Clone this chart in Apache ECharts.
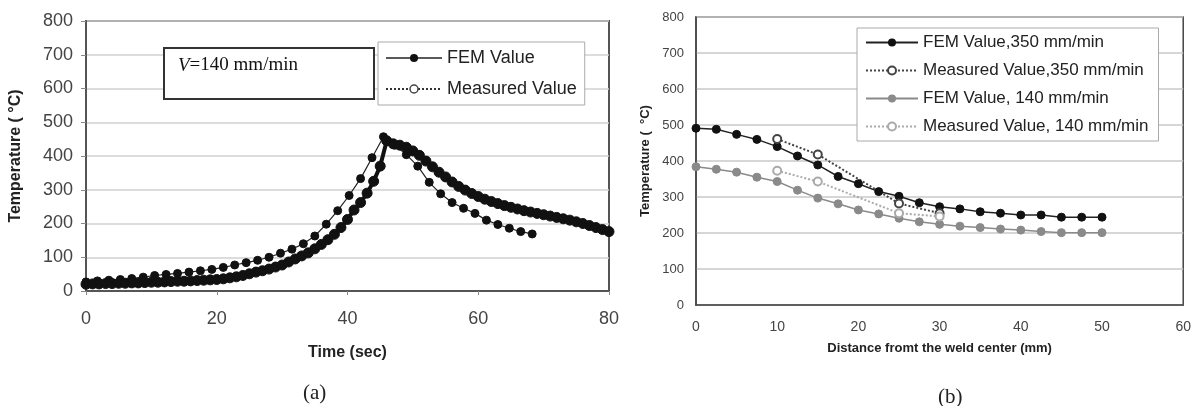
<!DOCTYPE html>
<html>
<head>
<meta charset="utf-8">
<script src="https://cdn.jsdelivr.net/npm/echarts@6/dist/echarts.min.js"></script>
<style>
  html, body { margin: 0; padding: 0; background: #ffffff; }
  #chart { width: 1194px; height: 406px; }
</style>
</head>
<body>
<div id="chart"></div>
<script>
'use strict';

// (a) 时间-温度曲线, V = 140 mm/min
var timeFem = [0, 1.75, 3.5, 5.25, 7, 8.75, 10.5, 12.25, 14, 15.75, 17.5, 19.25, 21, 22.75, 24.5, 26.25,
    28, 29.75, 31.5, 33.25, 35, 36.75, 38.5, 40.25, 42, 43.75, 45.5, 47.25, 49, 50.75, 52.5, 54.25,
    56, 57.75, 59.5, 61.25, 63, 64.75, 66.5, 68.25];
var tempFem = [27, 30, 32, 34, 37, 41, 46, 49, 52, 56, 60, 64, 70, 77, 84, 91,
    100, 112, 124, 140, 163, 198, 238, 283, 333, 395, 457, 432, 404, 370, 322, 288,
    262, 245, 230, 210, 197, 186, 176, 169];

var timeMeas = [0, 1, 2, 3, 4, 5, 6, 7, 8, 9, 10, 11, 12, 13, 14, 15, 16, 17, 18, 19, 20,
    21, 22, 23, 24, 25, 26, 27, 28, 29, 30, 31, 32, 33, 34, 35, 36, 37, 38, 39, 40,
    41, 42, 43, 44, 45, 46, 47, 48, 49, 50, 51, 52, 53, 54, 55, 56, 57, 58, 59, 60,
    61, 62, 63, 64, 65, 66, 67, 68, 69, 70, 71, 72, 73, 74, 75, 76, 77, 78, 79, 80];
var tempMeas = [20, 21, 21, 22, 22, 23, 23, 24, 24, 25, 26, 26, 27, 28, 29, 29, 30, 31, 32, 33, 34,
    36, 39, 42, 46, 51, 56, 60, 65, 71, 77, 86, 95, 104, 113, 125, 138, 152, 168, 188, 212,
    240, 262, 290, 325, 370, 445, 436, 432, 426, 415, 402, 385, 368, 352, 338, 323, 310, 299, 289, 280,
    272, 265, 259, 253, 248, 243, 238, 234, 230, 226, 222, 218, 214, 210, 205, 200, 194, 188, 182, 176];

// (b) 距焊缝中心距离-温度
var distFem = [0, 2.5, 5, 7.5, 10, 12.5, 15, 17.5, 20, 22.5, 25, 27.5, 30, 32.5, 35, 37.5, 40, 42.5, 45, 47.5, 50];
var fem350 = [491, 488, 474, 460, 440, 414, 389, 357, 337, 315, 302, 284, 273, 267, 259, 255, 250, 250, 244, 244, 244];
var fem140 = [384, 377, 369, 355, 343, 319, 297, 281, 264, 253, 241, 231, 224, 219, 215, 211, 208, 204, 201, 201, 201];
var distMeas = [10, 15, 25, 30];
var meas350 = [461, 418, 282, 255];
var meas140 = [373, 343, 255, 246];

function pairs(xs, ys) {
    var out = [];
    for (var i = 0; i < xs.length; i++) {
        out.push([xs[i], ys[i]]);
    }
    return out;
}

var sans = 'Liberation Sans, Arial, sans-serif';
var serif = 'Liberation Serif, Times New Roman, serif';

var chart = echarts.init(document.getElementById('chart'));

var option = {
    backgroundColor: '#ffffff',
    animation: false,
    title: [
        { text: '(a)', left: 298, top: 378, textStyle: { fontFamily: serif, fontSize: 21, fontWeight: 'normal', color: '#222' } },
        { text: '(b)', left: 933, top: 382, textStyle: { fontFamily: serif, fontSize: 21, fontWeight: 'normal', color: '#222' } }
    ],
    grid: [
        { left: 86, top: 21, width: 523, height: 270, show: true, borderColor: '#555', borderWidth: 2, backgroundColor: 'transparent' },
        { left: 696, top: 17, width: 490, height: 288, show: true, borderColor: '#444', borderWidth: 1.5, backgroundColor: 'transparent' }
    ],
    xAxis: [
        {
            gridIndex: 0, type: 'value', min: 0, max: 80, interval: 20,
            name: 'Time (sec)', nameLocation: 'middle', nameGap: 54,
            nameTextStyle: { fontFamily: sans, fontSize: 16, fontWeight: 'bold', color: '#222' },
            axisLine: { lineStyle: { color: '#555', width: 2 } },
            axisTick: { show: true, length: 4, lineStyle: { color: '#888' } },
            axisLabel: { fontFamily: sans, fontSize: 18, color: '#444', margin: 19 },
            splitLine: { show: false }
        },
        {
            gridIndex: 1, type: 'value', min: 0, max: 60, interval: 10,
            name: 'Distance fromt the weld center (mm)', nameLocation: 'middle', nameGap: 37,
            nameTextStyle: { fontFamily: sans, fontSize: 13, fontWeight: 'bold', color: '#222' },
            axisLine: { lineStyle: { color: '#444', width: 1.5 } },
            axisTick: { show: false },
            axisLabel: { fontFamily: sans, fontSize: 14, color: '#444', margin: 15 },
            splitLine: { show: false }
        }
    ],
    yAxis: [
        {
            gridIndex: 0, type: 'value', min: 0, max: 800, interval: 100,
            name: 'Temperature ( °C)', nameLocation: 'middle', nameGap: 62,
            nameTextStyle: { fontFamily: sans, fontSize: 16, fontWeight: 'bold', color: '#222' },
            axisLine: { show: true, lineStyle: { color: '#555', width: 2 } },
            axisTick: { show: true, length: 5, lineStyle: { color: '#888' } },
            axisLabel: { fontFamily: sans, fontSize: 18, color: '#444', margin: 13 },
            splitLine: { lineStyle: { color: '#d0d0d0', width: 1.5 } }
        },
        {
            gridIndex: 1, type: 'value', min: 0, max: 800, interval: 100,
            name: 'Temperature (  °C)', nameLocation: 'middle', nameGap: 44,
            nameTextStyle: { fontFamily: sans, fontSize: 13, fontWeight: 'bold', color: '#222' },
            axisLine: { show: true, lineStyle: { color: '#444', width: 1.5 } },
            axisTick: { show: false },
            axisLabel: { fontFamily: sans, fontSize: 13, color: '#444', margin: 12 },
            splitLine: { lineStyle: { color: '#c8c8c8', width: 1.5 } }
        }
    ],
    legend: [
        {
            left: 378, top: 42, orient: 'vertical',
            itemWidth: 56, itemHeight: 10, itemGap: 13,
            padding: [7, 8, 7, 7],
            backgroundColor: '#ffffff', borderColor: '#aaa', borderWidth: 1,
            textStyle: { fontFamily: sans, fontSize: 18, color: '#222' },
            data: [
                { name: 'FEM Value', itemStyle: { color: '#111' }, lineStyle: { color: '#222', width: 1.5, type: 'solid' } },
                {
                    name: 'Measured Value',
                    itemStyle: { color: '#ffffff', borderColor: '#444', borderWidth: 1.5 },
                    lineStyle: { color: '#333', width: 2, type: 'dotted' }
                }
            ]
        },
        {
            left: 857, top: 28, orient: 'vertical',
            itemWidth: 52, itemHeight: 10, itemGap: 11,
            padding: [6, 10, 6, 8],
            backgroundColor: '#ffffff', borderColor: '#aaa', borderWidth: 1,
            textStyle: { fontFamily: sans, fontSize: 17, color: '#222' },
            data: ['FEM Value,350 mm/min', 'Measured Value,350 mm/min', 'FEM Value, 140 mm/min', 'Measured Value, 140 mm/min']
        }
    ],
    graphic: [
        {
            type: 'rect', left: 163, top: 47, z: 100,
            shape: { width: 210, height: 51 },
            style: { fill: '#ffffff', stroke: '#333', lineWidth: 2 }
        },
        {
            type: 'text', left: 178, top: 56, z: 101,
            style: {
                text: '{i|V}=140 mm/min',
                fontFamily: serif, fontSize: 19, fill: '#111',
                rich: { i: { fontFamily: serif, fontSize: 19, fontStyle: 'italic', color: '#111' } }
            }
        }
    ],
    series: [
        {
            name: 'FEM Value', type: 'line', xAxisIndex: 0, yAxisIndex: 0,
            data: pairs(timeFem, tempFem),
            symbol: 'circle', symbolSize: 8,
            itemStyle: { color: '#111', borderColor: '#111' },
            lineStyle: { color: '#222', width: 1.2, type: 'solid' }
        },
        {
            name: 'Measured Value', type: 'line', xAxisIndex: 0, yAxisIndex: 0,
            data: pairs(timeMeas, tempMeas),
            symbol: 'circle', symbolSize: 10,
            itemStyle: { color: '#111', borderColor: '#111' },
            lineStyle: { color: '#111', width: 4, type: 'solid' }
        },
        {
            name: 'FEM Value,350 mm/min', type: 'line', xAxisIndex: 1, yAxisIndex: 1,
            data: pairs(distFem, fem350),
            symbol: 'circle', symbolSize: 8,
            itemStyle: { color: '#111', borderColor: '#111' },
            lineStyle: { color: '#222', width: 1.5 }
        },
        {
            name: 'Measured Value,350 mm/min', type: 'line', xAxisIndex: 1, yAxisIndex: 1,
            data: pairs(distMeas, meas350),
            symbol: 'circle', symbolSize: 8,
            itemStyle: { color: '#ffffff', borderColor: '#444', borderWidth: 2 },
            lineStyle: { color: '#444', width: 2, type: 'dotted' }
        },
        {
            name: 'FEM Value, 140 mm/min', type: 'line', xAxisIndex: 1, yAxisIndex: 1,
            data: pairs(distFem, fem140),
            symbol: 'circle', symbolSize: 8,
            itemStyle: { color: '#8a8a8a', borderColor: '#8a8a8a' },
            lineStyle: { color: '#8a8a8a', width: 1.5 }
        },
        {
            name: 'Measured Value, 140 mm/min', type: 'line', xAxisIndex: 1, yAxisIndex: 1,
            data: pairs(distMeas, meas140),
            symbol: 'circle', symbolSize: 8,
            itemStyle: { color: '#ffffff', borderColor: '#aaa', borderWidth: 2 },
            lineStyle: { color: '#aaa', width: 2, type: 'dotted' }
        }
    ]
};

chart.setOption(option);
</script>
</body>
</html>
